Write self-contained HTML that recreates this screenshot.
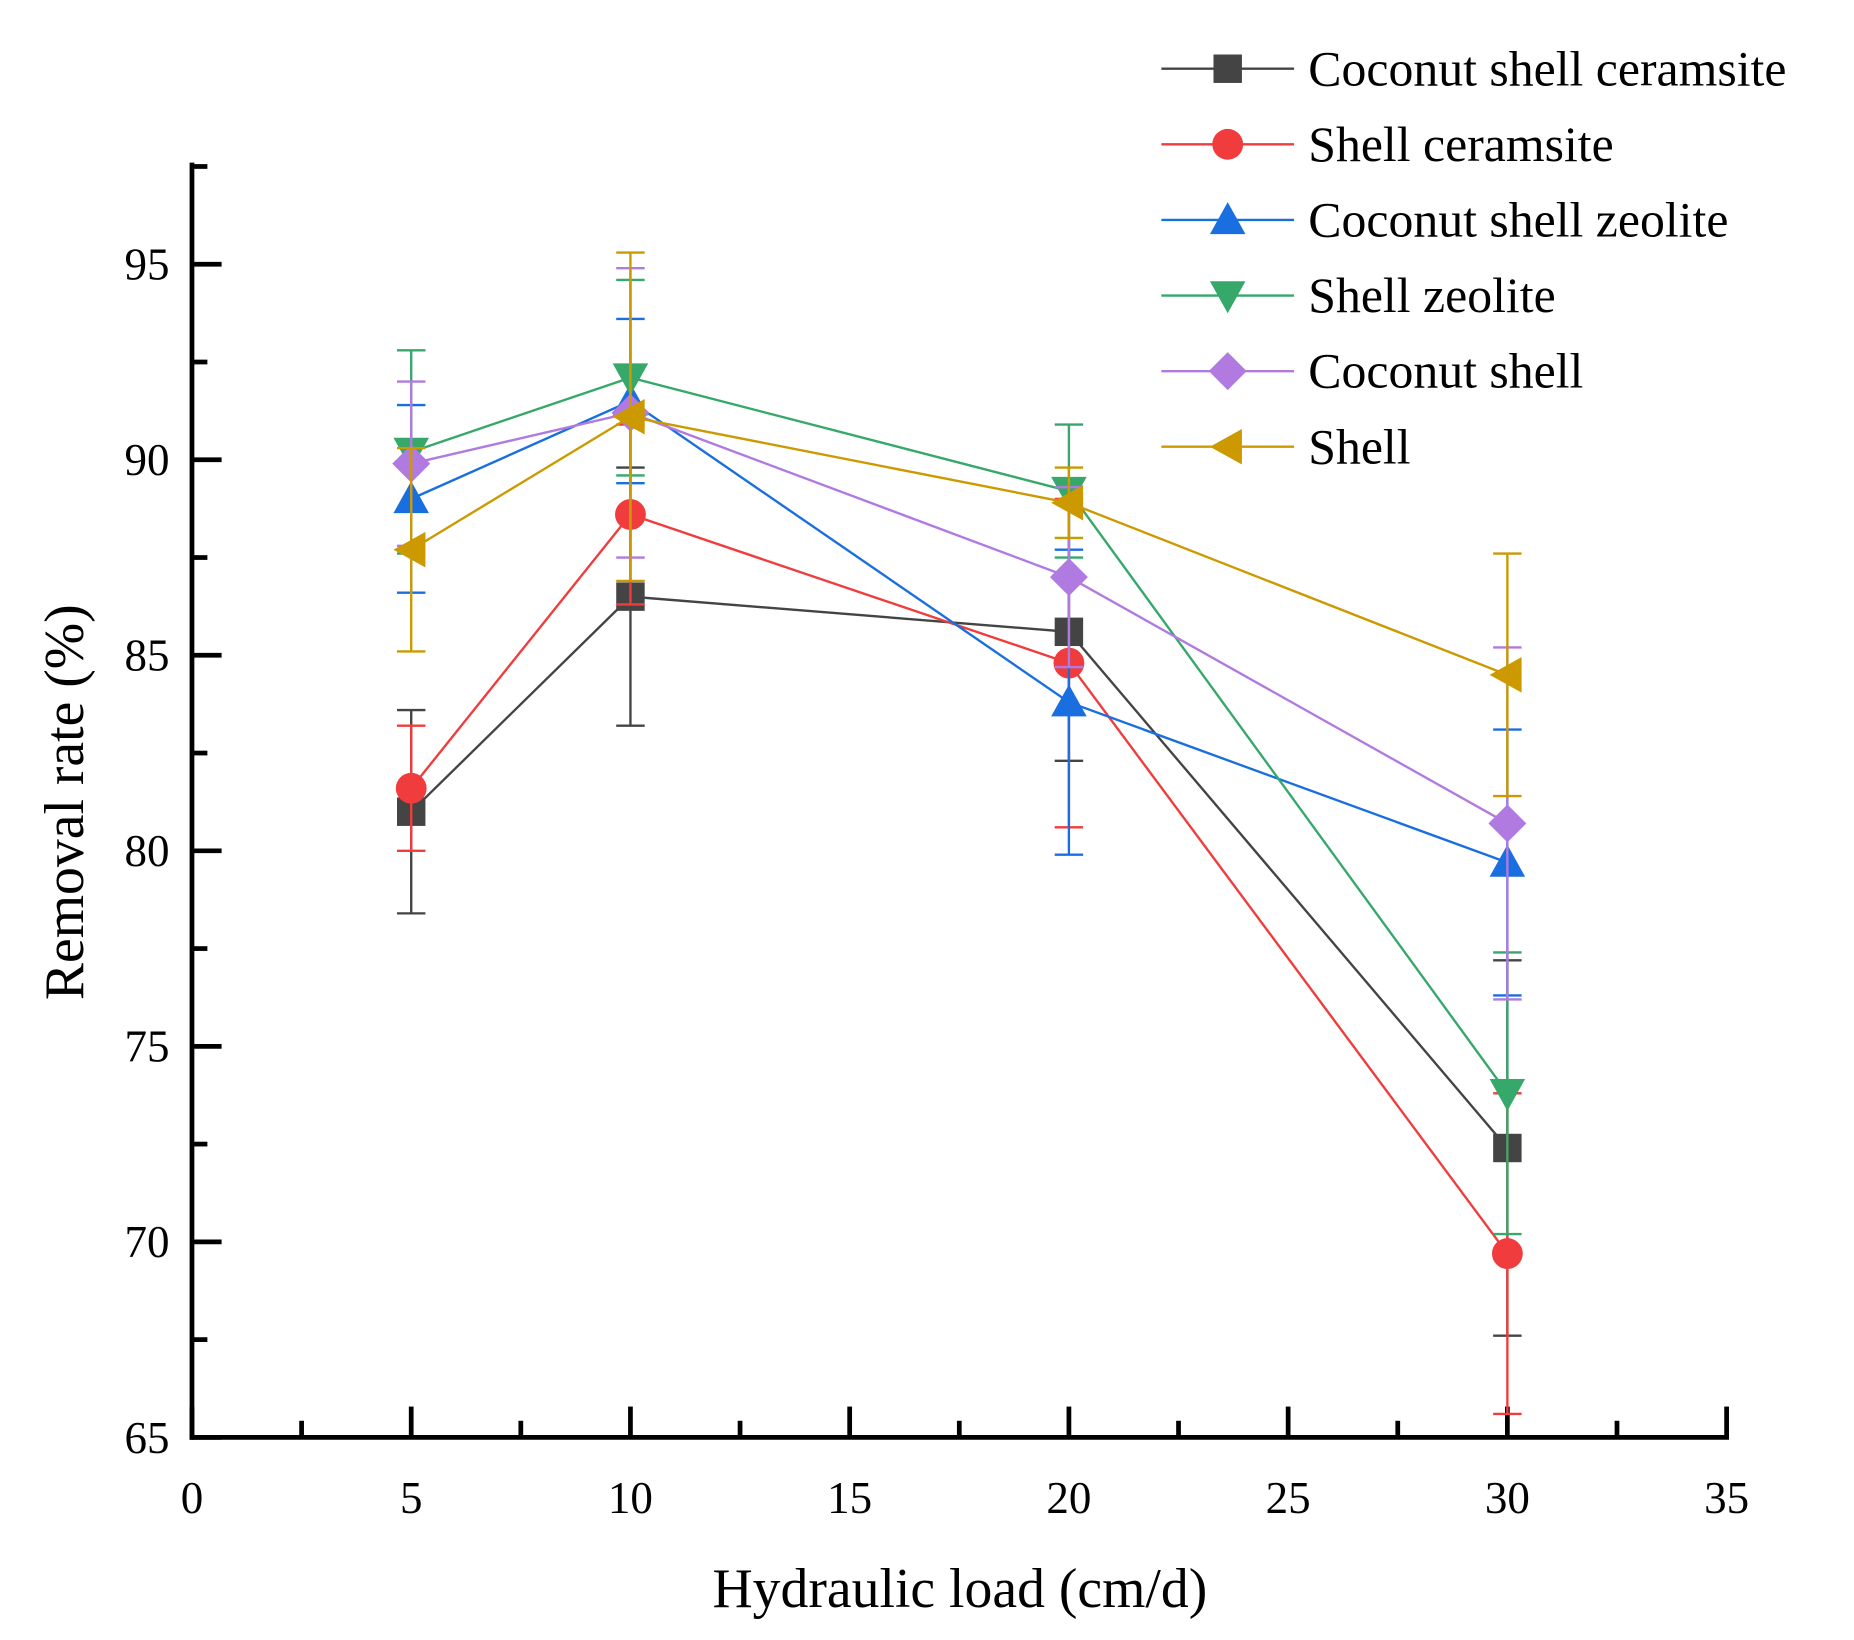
<!DOCTYPE html>
<html><head><meta charset="utf-8"><style>
html,body{margin:0;padding:0;background:#fff}
svg{display:block}
text{font-family:"Liberation Serif",serif;fill:#000}
</style></head><body>
<svg id="chart" width="1854" height="1640" viewBox="0 0 1564.5 1384" preserveAspectRatio="none" xmlns="http://www.w3.org/2000/svg">
<g id="axes"></g>
<g id="series"></g>
<g id="legend"></g>
<text x="810" y="1356" font-size="47" text-anchor="middle">Hydraulic load (cm/d)</text>
<text transform="translate(70,677) rotate(-90)" font-size="47" text-anchor="middle">Removal rate (%)</text>
</svg>
<script>
const xCats = [5, 10, 20, 30];
const seriesNames = ["Coconut shell ceramsite","Shell ceramsite","Coconut shell zeolite","Shell zeolite","Coconut shell","Shell"];
const valsCSC = [81.0, 86.5, 85.6, 72.4];
const errCSC  = [2.6, 3.3, 3.3, 4.8];
const valsSC  = [81.6, 88.6, 84.8, 69.7];
const errSC   = [1.6, 2.3, 4.2, 4.1];
const valsCSZ = [89.0, 91.5, 83.8, 79.7];
const errCSZ  = [2.4, 2.1, 3.9, 3.4];
const valsSZ  = [90.2, 92.1, 89.2, 73.8];
const errSZ   = [2.6, 2.5, 1.7, 3.6];
const valsCS  = [89.9, 91.2, 87.0, 80.7];
const errCS   = [2.1, 3.7, 2.3, 4.5];
const valsS   = [87.7, 91.1, 88.9, 84.5];
const errS    = [2.6, 4.2, 0.9, 3.1];
const xTicks = [0,5,10,15,20,25,30,35];
const yTicks = [65,70,75,80,85,90,95];

const NS="http://www.w3.org/2000/svg";
const X0=162, X1=1457, Y0=1213;
const xs = v => X0 + (v-0)*(X1-X0)/35;
const ys = v => Y0 - (v-65)*33;
function mk(tag, attrs, parent){const e=document.createElementNS(NS,tag);for(const k in attrs)e.setAttribute(k,attrs[k]);parent.appendChild(e);return e;}
const axes=document.getElementById('axes');
let e;
e=mk('line',{x1:X0,y1:ys(97.6),x2:X0,y2:Y0+2,stroke:'#000','stroke-width':4},axes);


e=mk('line',{x1:X0-2,y1:Y0,x2:X1+2,y2:Y0,stroke:'#000','stroke-width':4},axes);


for(let v=0; v<=35; v+=2.5){
  const major = v%5===0;
  e=mk('line',{x1:xs(v),y1:Y0,x2:xs(v),y2:Y0-(major?26:14),stroke:'#000','stroke-width':4},axes);
  
  
}
xTicks.forEach(v=>{
  e=mk('text',{x:xs(v),y:1277,'font-size':38,'text-anchor':'middle'},axes);e.textContent=v;
  
  
});
for(let v=65; v<=97.5; v+=2.5){
  const major = v%5===0;
  e=mk('line',{x1:X0,y1:ys(v),x2:X0+(major?25:13),y2:ys(v),stroke:'#000','stroke-width':4},axes);
  
  
}
yTicks.forEach(v=>{
  e=mk('text',{x:143,y:ys(v)+13,'font-size':38,'text-anchor':'end'},axes);e.textContent=v;
  
  
});

const colors=['#444444','#f03c3c','#1a6fe0','#35a86a','#b07ae0','#cc9a00'];
const shapes=['square','circle','up','down','diamond','left'];
const allVals=[valsCSC,valsSC,valsCSZ,valsSZ,valsCS,valsS];
const allErr=[errCSC,errSC,errCSZ,errSZ,errCS,errS];
function marker(shape,x,y,c,parent){
  const r=13;let m;
  if(shape==='square') m=mk('rect',{x:x-r+1,y:y-r+1,width:2*r-2,height:2*r-2,fill:c},parent);
  else if(shape==='circle') m=mk('circle',{cx:x,cy:y,r:r,fill:c},parent);
  else if(shape==='up') m=mk('polygon',{points:`${x},${y-r-2} ${x+r+2},${y+r-1} ${x-r-2},${y+r-1}`,fill:c},parent);
  else if(shape==='down') m=mk('polygon',{points:`${x},${y+r+2} ${x+r+2},${y-r+1} ${x-r-2},${y-r+1}`,fill:c},parent);
  else if(shape==='diamond') m=mk('polygon',{points:`${x},${y-r-3} ${x+r+3},${y} ${x},${y+r+3} ${x-r-3},${y}`,fill:c},parent);
  else m=mk('polygon',{points:`${x-r-2},${y} ${x+r-1},${y-r-2} ${x+r-1},${y+r+2}`,fill:c},parent);
  return m;
}
const sg=document.getElementById('series');
allVals.forEach((vals,si)=>{
  const g=mk('g',{},sg);
  
  
  const c=colors[si];
  vals.forEach((v,i)=>{
    const x=xs(xCats[i]),err=allErr[si][i];
    const eb=mk('g',{stroke:c,'stroke-width':2},g);
    
    
    mk('line',{x1:x,y1:ys(v-err),x2:x,y2:ys(v+err)},eb);
    mk('line',{x1:x-12,y1:ys(v-err),x2:x+12,y2:ys(v-err)},eb);
    mk('line',{x1:x-12,y1:ys(v+err),x2:x+12,y2:ys(v+err)},eb);
  });
  const line=mk('polyline',{points:vals.map((v,i)=>xs(xCats[i])+','+ys(v)).join(' '),fill:'none',stroke:c,'stroke-width':2},g);
  
  
  vals.forEach((v,i)=>{
    const m=marker(shapes[si],xs(xCats[i]),ys(v),c,g);
    
    
  });
});
const lg=document.getElementById('legend');
seriesNames.forEach((n,i)=>{
  const y=58+i*63.8;
  const g=mk('g',{},lg);
  
  
  mk('line',{x1:980,y1:y,x2:1092,y2:y,stroke:colors[i],'stroke-width':2},g);
  marker(shapes[i],1036,y,colors[i],g);
  const t=mk('text',{x:1104,y:y+14,'font-size':42},g);t.textContent=n;
});
</script>
</body></html>
